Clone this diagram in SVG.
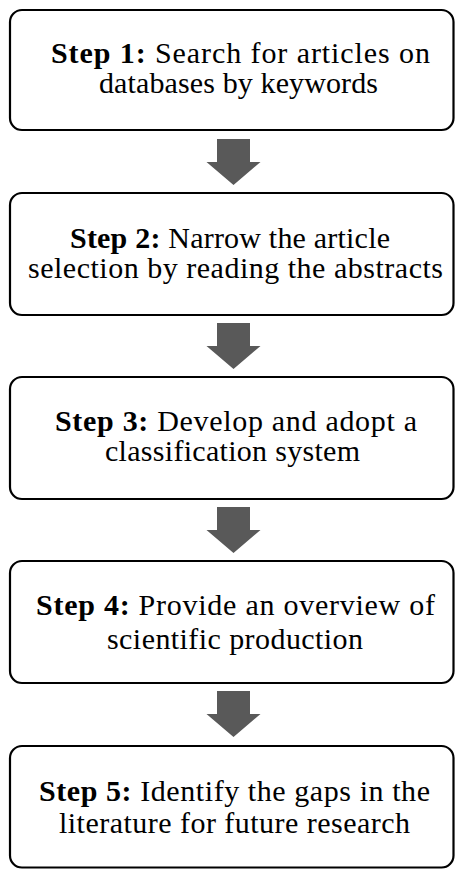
<svg xmlns="http://www.w3.org/2000/svg" width="455" height="869" viewBox="0 0 455 869">
<style>
.box{fill:#ffffff;stroke:#000000;stroke-width:2.2}
.b{font-weight:bold}
.arr{fill:#595959}
</style>
<defs>
<path id="arrow" class="arr" d="M-16.5,0 H16.5 V23 H27 L0,46 L-27,23 H-16.5 Z"/>
</defs>
<rect width="455" height="869" fill="#ffffff"/>
<g id="connectors">
<use href="#arrow" x="233.5" y="139"/>
<use href="#arrow" x="233.5" y="323"/>
<use href="#arrow" x="233.5" y="507"/>
<use href="#arrow" x="233.5" y="691"/>
</g>
<g font-family="Liberation Serif, Times New Roman, serif" font-size="30" fill="#000000">
<g id="step1">
<rect class="box" x="10" y="10" width="443.5" height="120" rx="12"/>
<text x="51" y="63" textLength="379" lengthAdjust="spacing"><tspan class="b">Step 1:</tspan> Search for articles on</text>
<text x="99" y="93" textLength="279" lengthAdjust="spacing">databases by keywords</text>
</g>
<g id="step2">
<rect class="box" x="10" y="193" width="443.5" height="122" rx="12"/>
<text x="70" y="248" textLength="320" lengthAdjust="spacing"><tspan class="b">Step 2:</tspan> Narrow the article</text>
<text x="28" y="278" textLength="415" lengthAdjust="spacing">selection by reading the abstracts</text>
</g>
<g id="step3">
<rect class="box" x="10" y="377" width="443.5" height="122" rx="12"/>
<text x="55" y="431" textLength="362" lengthAdjust="spacing"><tspan class="b">Step 3:</tspan> Develop and adopt a</text>
<text x="105" y="461" textLength="255" lengthAdjust="spacing">classification system</text>
</g>
<g id="step4">
<rect class="box" x="10" y="561" width="443.5" height="122" rx="12"/>
<text x="36" y="615" textLength="399" lengthAdjust="spacing"><tspan class="b">Step 4:</tspan> Provide an overview of</text>
<text x="107" y="649" textLength="256" lengthAdjust="spacing">scientific production</text>
</g>
<g id="step5">
<rect class="box" x="10" y="746" width="443.5" height="121.5" rx="12"/>
<text x="39" y="801" textLength="391" lengthAdjust="spacing"><tspan class="b">Step 5:</tspan> Identify the gaps in the</text>
<text x="59" y="833" textLength="351" lengthAdjust="spacing">literature for future research</text>
</g>
</g>
</svg>
